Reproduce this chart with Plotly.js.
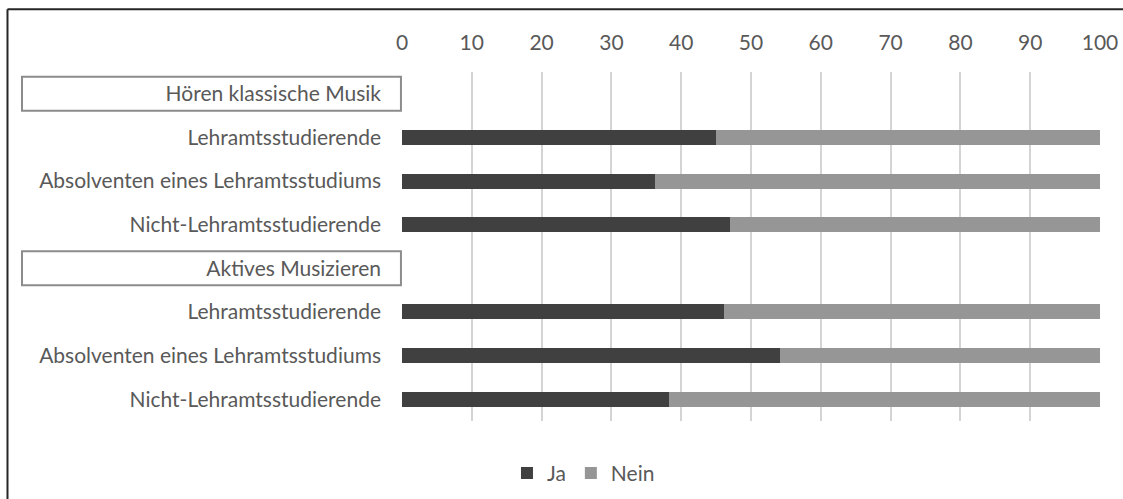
<!DOCTYPE html>
<html>
<head>
<meta charset="utf-8">
<script src="https://cdn.plot.ly/plotly-3.0.1.min.js"></script>
<style>
  html, body { margin: 0; padding: 0; background: #fff; }
  #chart { width: 1123px; height: 499px; }
</style>
</head>
<body>
<div id="chart"></div>
<script>
// Row labels, top to bottom; group headings have no bar values
const rowLabels = [
  "Hören klassische Musik",
  "Lehramtsstudierende",
  "Absolventen eines Lehramtsstudiums",
  "Nicht-Lehramtsstudierende",
  "Aktives Musizieren",
  "Lehramtsstudierende",
  "Absolventen eines Lehramtsstudiums",
  "Nicht-Lehramtsstudierende"
];
const headingRows = [0, 4];

// Share in percent answering "Ja" (null for heading rows)
const jaValues = [null, 45.0, 36.3, 47.0, null, 46.1, 54.2, 38.3];
// Share answering "Nein"
const neinValues = [null, 55.0, 63.7, 53.0, null, 53.9, 45.8, 61.7];

const xTicks = [0, 10, 20, 30, 40, 50, 60, 70, 80, 90, 100];

const rowIndex = rowLabels.map((_, i) => i);
const textColor = "#595959";
const fontFamily = "Lato, 'Open Sans', sans-serif";
const fontSize = 21;

const traces = [
  {
    type: "bar", orientation: "h", name: "Ja",
    x: jaValues, y: rowIndex,
    marker: { color: "#404040" },
    hoverinfo: "x+name"
  },
  {
    type: "bar", orientation: "h", name: "Nein",
    x: neinValues, y: rowIndex,
    marker: { color: "#969696" },
    hoverinfo: "x+name"
  }
];

// Boxes round the group headings
const headingBoxes = headingRows.map(r => ({
  type: "rect", xref: "paper", yref: "y",
  x0: -0.5444, x1: -0.0015, y0: r - 0.39, y1: r + 0.39,
  line: { color: "#8c8c8c", width: 2 },
  fillcolor: "rgba(0,0,0,0)", layer: "above"
}));

// Chart frame (top and left edges)
const frame = [
  { type: "line", xref: "paper", yref: "paper", x0: -0.5652, x1: 1.05, y0: 1.1796, y1: 1.1796,
    line: { color: "#262626", width: 2 } },
  { type: "line", xref: "paper", yref: "paper", x0: -0.5652, x1: -0.5652, y0: 1.1796, y1: -0.3,
    line: { color: "#262626", width: 2 } }
];

const layout = {
  width: 1123, height: 499,
  margin: { l: 402, r: 23, t: 72, b: 78, autoexpand: false },
  paper_bgcolor: "#ffffff", plot_bgcolor: "#ffffff",
  barmode: "stack",
  bargap: 0.655,
  font: { family: fontFamily, size: fontSize, color: textColor },
  xaxis: {
    side: "top", range: [0, 100], tickvals: xTicks,
    showgrid: true, gridcolor: "#d4d4d4", gridwidth: 2,
    zeroline: false, showline: false, ticks: "",
    ticklabelstandoff: 17,
    tickfont: { family: fontFamily, size: fontSize, color: textColor },
    fixedrange: true
  },
  yaxis: {
    range: [7.5, -0.5], tickvals: rowIndex, ticktext: rowLabels,
    showgrid: false, zeroline: false, showline: false, ticks: "",
    ticklabelstandoff: 20,
    tickfont: { family: fontFamily, size: fontSize, color: textColor },
    fixedrange: true
  },
  shapes: headingBoxes.concat(frame),
  showlegend: true,
  legend: {
    orientation: "h", x: 0.260, xanchor: "center", y: -0.150, yanchor: "middle",
    font: { family: fontFamily, size: fontSize, color: textColor },
    itemwidth: 30, traceorder: "normal"
  }
};

Plotly.newPlot("chart", traces, layout, { displayModeBar: false, staticPlot: true });
</script>
</body>
</html>
